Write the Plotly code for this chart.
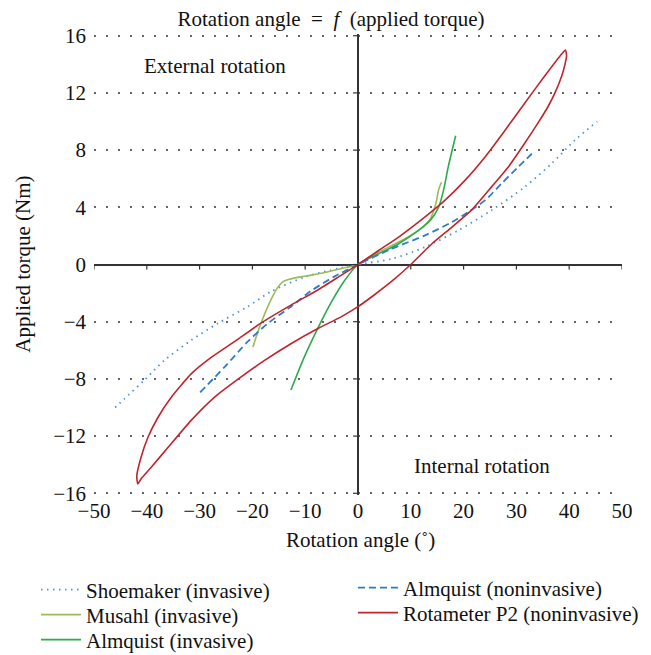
import plotly.graph_objects as go

# ---- data ----
shoemaker_x = [-46, -44.3, -40.5, -36.7, -31.6, -26.6, -20.9, -16.5, -9.8, -3.5, 0,
               6.4, 12.7, 19, 25.3, 31.6, 36.7, 41.1, 45.3]
shoemaker_y = [-10, -9.41, -8.1, -6.71, -5.3, -4.13, -2.95, -1.9, -0.84, -0.26, 0,
               0.4, 1.22, 2.39, 3.8, 5.43, 7.07, 8.7, 10.0]

musahl_x = [-19.9, -18.4, -16.5, -15.2, -14.2, -13, -9.8, -6.7, -2.9, 0,
            3.9, 7.7, 11.5, 13.7, 14.75, 15.25, 15.8]
musahl_y = [-5.77, -4.13, -2.48, -1.6, -1.2, -1.03, -0.8, -0.6, -0.26, 0,
            0.87, 1.57, 2.39, 3.2, 4.26, 5.2, 5.75]

alm_inv_x = [-12.7, -10.2, -7.6, -5.0, -2.5, 0, 3.9, 7.7, 11.5, 13.7, 15.25, 16.2, 17.1, 18.5]
alm_inv_y = [-8.78, -6.5, -4.45, -2.6, -1.1, 0, 0.75, 1.45, 2.4, 3.1, 4.0, 5.2, 6.84, 9.0]

alm_non_x = [-29.9, -25.3, -20.9, -17.1, -12.7, -8.9, -4.5, 0,
             6.4, 12.7, 17.8, 20.9, 24.1, 27.2, 30.4, 33.5]
alm_non_y = [-8.94, -7.18, -5.4, -4.13, -2.95, -1.85, -0.85, 0,
             1.1, 2.04, 2.97, 3.68, 4.5, 5.67, 6.84, 7.95]

rot_x = [0, 3.9, 7.7, 12.7, 16.5, 20.3, 24.1, 27.9, 31.6, 35.4, 38.3, 39.3, 39.5,
         39.2, 38.6, 37.3, 36.0, 34.1, 31.6, 28.5, 25.3, 21.5, 17.8, 14.0, 10.0, 6.7, 3.0, 0,
         -3.2, -7.6, -12.7, -17.7, -22.2, -27.2, -31.6, -36.0, -39.2, -41.1, -41.7, -41.9,
         -41.1, -39.8, -37.9, -35.4, -31.6, -27.8, -23.4, -18.4, -12.7, -7.6, -3.6, 0]
rot_y = [0, 0.98, 1.92, 3.33, 4.5, 5.9, 7.54, 9.41, 11.3, 13.2, 14.6, 15.0, 14.6,
         14.0, 13.2, 12.0, 11.05, 9.9, 8.5, 6.84, 5.43, 3.8, 2.62, 1.45, 0, -1.08, -2.15, -2.95,
         -3.66, -4.48, -5.54, -6.71, -7.88, -9.29, -10.9, -12.8, -14.2, -15.0, -15.35, -14.8,
         -13.5, -12.1, -10.7, -9.3, -7.65, -6.5, -5.4, -4.1, -2.84, -1.78, -0.85, 0]

x_ticks = [-50, -40, -30, -20, -10, 0, 10, 20, 30, 40, 50]
y_ticks = [-16, -12, -8, -4, 0, 4, 8, 12, 16]

FONT = "Liberation Serif"
FS = 21
W, H = 643, 662   # page body has an 8px margin


def cy(page_y):
    """container y fraction for a page pixel row"""
    return 1 - (page_y - 8) / H


def cx(page_x):
    return (page_x - 8) / W


fig = go.Figure()
fig.add_trace(go.Scatter(x=shoemaker_x, y=shoemaker_y, mode="lines", name="Shoemaker (invasive)",
                         line=dict(color="#4A92D2", width=1.8, dash="1.5px,4.5px", shape="spline", smoothing=0.8),
                         legend="legend"))
fig.add_trace(go.Scatter(x=musahl_x, y=musahl_y, mode="lines", name="Musahl (invasive)",
                         line=dict(color="#9BBB59", width=1.6, shape="spline", smoothing=0.8), legend="legend2"))
fig.add_trace(go.Scatter(x=alm_inv_x, y=alm_inv_y, mode="lines", name="Almquist (invasive)",
                         line=dict(color="#2EAA4E", width=1.6, shape="spline", smoothing=0.8), legend="legend3"))
fig.add_trace(go.Scatter(x=alm_non_x, y=alm_non_y, mode="lines", name="Almquist (noninvasive)",
                         line=dict(color="#2F7CC6", width=1.8, dash="7px,4px", shape="spline", smoothing=0.8),
                         legend="legend4"))
fig.add_trace(go.Scatter(x=rot_x, y=rot_y, mode="lines", name="Rotameter P2 (noninvasive)",
                         line=dict(color="#C0252D", width=1.6, shape="spline", smoothing=0.5), legend="legend5"))

# small tick marks on the zero axes
shapes = []
for xv in x_ticks:
    shapes.append(dict(type="line", xref="x", yref="y", x0=xv, x1=xv, ysizemode="pixel", yanchor=0,
                       y0=0, y1=-5, line=dict(color="#333", width=1.2)))
for yv in y_ticks:
    shapes.append(dict(type="line", xref="x", yref="y", y0=yv, y1=yv, xsizemode="pixel", xanchor=0,
                       x0=0, x1=-5, line=dict(color="#333", width=1.2)))


def leg(px, py):
    return dict(x=cx(px), y=cy(py), xref="container", yref="container", xanchor="left", yanchor="middle",
                bgcolor="rgba(0,0,0,0)", font=dict(family=FONT, size=FS, color="#111"),
                tracegroupgap=0, itemwidth=40)


fig.update_layout(
    width=W, height=H,
    showlegend=True,
    margin=dict(l=86, r=29, t=26, b=H - 487, autoexpand=False),
    paper_bgcolor="white", plot_bgcolor="white",
    font=dict(family=FONT, size=FS, color="#111"),
    title=dict(text="Rotation angle\u2002=\u2002<i>f</i>\u2002(applied torque)", x=cx(331), xanchor="center",
               xref="container", yref="container",
               y=cy(11), yanchor="top", font=dict(family=FONT, size=FS)),
    shapes=shapes,
    xaxis=dict(range=[-50, 50], tickvals=x_ticks, showgrid=False, zeroline=True, zerolinecolor="#333",
               zerolinewidth=1.5, showline=False, ticks="", tickfont=dict(size=FS), automargin=False,
               ticklabelstandoff=1, tickangle=0),
    yaxis=dict(range=[-16.12, 16.12], tickvals=y_ticks, showgrid=True, gridcolor="#666", gridwidth=1.6,
               griddash="1.6px,10.4px", zeroline=True, zerolinecolor="#333", zerolinewidth=1.5,
               showline=False, ticks="", tickfont=dict(size=FS), ticklabelstandoff=7, automargin=False),
    legend=leg(36, 590),
    legend2=leg(36, 615),
    legend3=leg(36, 640),
    legend4=leg(353, 588),
    legend5=leg(353, 613),
    annotations=[
        dict(text="External rotation", x=-27.0, y=13.9, xref="x", yref="y", showarrow=False,
             font=dict(family=FONT, size=FS)),
        dict(text="Internal rotation", x=23.5, y=-14.1, xref="x", yref="y", showarrow=False,
             font=dict(family=FONT, size=FS)),
        dict(text="Rotation angle (˚)", x=0.504, y=-0.097, xref="paper", yref="paper", showarrow=False,
             xanchor="center", yanchor="middle", font=dict(family=FONT, size=FS)),
        dict(text="Applied torque (Nm)", x=-0.136, y=0.5, xref="paper", yref="paper", showarrow=False,
             textangle=-90, xanchor="center", yanchor="middle", font=dict(family=FONT, size=FS)),
    ],
)

fig.write_html("out.html")
